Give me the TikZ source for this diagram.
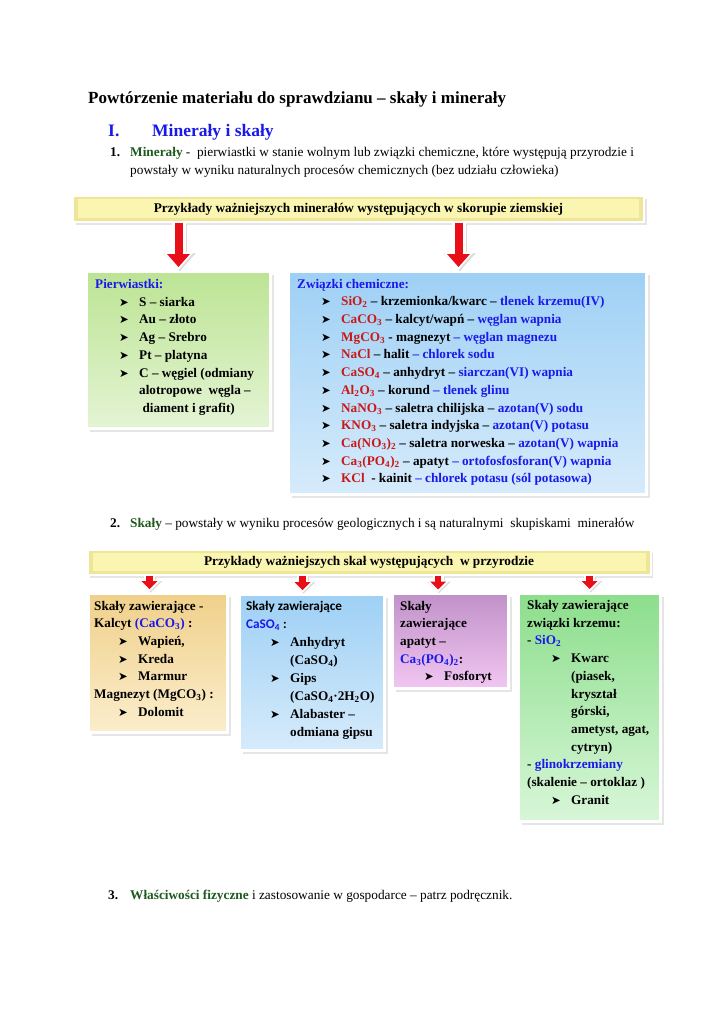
\documentclass[tikz,border=0pt]{standalone}
\usepackage{fontspec}
\setmainfont{Liberation Serif}
\newfontfamily\calibrifont{Carlito}
\newfontfamily\dejavu{DejaVu Sans}
\usetikzlibrary{arrows.meta,shadows}

\definecolor{darkgreen}{RGB}{30,90,30}
\definecolor{hblue}{RGB}{25,25,235}
\definecolor{fred}{RGB}{200,25,25}
\definecolor{arrred}{RGB}{232,15,25}
\definecolor{banlight}{RGB}{250,246,178}
\definecolor{bandark}{RGB}{238,229,150}
% kolory ramek
\definecolor{elemtop}{RGB}{188,228,148}
\definecolor{elembot}{RGB}{228,244,212}
\definecolor{bluetop}{RGB}{158,208,245}
\definecolor{bluebot}{RGB}{214,235,251}
\definecolor{tantop}{RGB}{240,208,138}
\definecolor{tanbot}{RGB}{251,237,204}
\definecolor{purtop}{RGB}{192,145,200}
\definecolor{purbot}{RGB}{242,198,242}
\definecolor{sgtop}{RGB}{140,222,140}
\definecolor{sgbot}{RGB}{216,246,216}

\newcommand{\low}[1]{\textsubscript{#1}}
\newcommand{\bitem}[1]{\hspace*{24pt}\makebox[20pt][l]{\dejavu\fontsize{11.5}{11.5}\selectfont ➤}#1}
\newcommand{\cont}[1]{\hspace*{44pt}#1}
\newcommand{\bl}[1]{\textcolor{hblue}{#1}}
\newcommand{\rd}[1]{\textcolor{fred}{#1}}

\tikzset{
  box/.style 2 args={draw=white, line width=3pt, inner sep=0pt, top color=#1, bottom color=#2,
    drop shadow={opacity=.2, shadow xshift=3.5pt, shadow yshift=-3.5pt}},
  banner/.style={draw=white, line width=2pt, inner sep=0pt, fill=bandark, font=\fontsize{13.3}{16}\selectfont\bfseries,
    drop shadow={opacity=.2, shadow xshift=2.5pt, shadow yshift=-3pt},
    path picture={\fill[banlight] ([shift={(5pt,-3.5pt)}]path picture bounding box.north west) rectangle ([shift={(-5pt,4pt)}]path picture bounding box.south east);}},
  boxtxt/.style={anchor=north west, inner sep=0pt, align=left, font=\fontsize{13.2}{17.7}\selectfont\bfseries},
  line/.style={anchor=base west, inner sep=0pt, font=\fontsize{13.3}{16}\selectfont},
  bigarrow/.style={arrred, line width=8pt, shorten >=3pt, -{Triangle[width=23pt,length=13pt,line width=0pt]},
    preaction={draw=black!14, line width=15pt, shorten >=0pt, transform canvas={xshift=1.2pt,yshift=-1.2pt},
      -{Triangle[width=32pt,length=18pt,line width=0pt]}},
    preaction={draw=white, line width=14pt, shorten >=0pt, -{Triangle[width=31pt,length=18pt,line width=0pt]}}},
  smallarrow/.style={arrred, line width=6.5pt, shorten >=2.5pt, -{Triangle[width=16pt,length=8pt,line width=0pt]},
    preaction={draw=black!14, line width=11.5pt, shorten >=0pt, transform canvas={xshift=1pt,yshift=-1pt},
      -{Triangle[width=24pt,length=11.5pt,line width=0pt]}},
    preaction={draw=white, line width=11pt, shorten >=0pt, -{Triangle[width=23pt,length=11.5pt,line width=0pt]}}},
}

\begin{document}
\begin{tikzpicture}[x=1pt, y=-1pt]
\useasboundingbox[fill=white] (0,0) rectangle (725,1024);

% naglowek
\node[line, font=\fontsize{17}{20}\selectfont\bfseries] (title) at (88,104) {Powtórzenie materiału do sprawdzianu – skały i minerały};
\node[line, font=\fontsize{17.5}{20}\selectfont\bfseries, text=hblue] (part1) at (108,137) {\makebox[44pt][l]{I.}Minerały i skały};
\node[line] (item1) at (110,156.5) {\makebox[20pt][l]{\bfseries 1.}{\bfseries\color{darkgreen}Minerały} -\ \ pierwiastki w stanie wolnym lub związki chemiczne, które występują przyrodzie i};
\node[line] (item1b) at (130,174.5) {powstały w wyniku naturalnych procesów chemicznych (bez udziału człowieka)};

% mineraly
\node[banner, minimum width=571pt, minimum height=26pt] (minban) at (358.5,209) {Przykłady ważniejszych minerałów występujących w skorupie ziemskiej};
\node[box={elemtop}{elembot}, minimum width=184pt, minimum height=157pt] (elembox) at (178.5,350) {};
\node[box={bluetop}{bluebot}, minimum width=358pt, minimum height=223pt] (compbox) at (467.5,383) {};
\draw[bigarrow] (minban.south -| elembox.north) -- (elembox.north);
\draw[bigarrow] ([xshift=-9pt]minban.south -| compbox.north) -- ([xshift=-9pt]compbox.north);

\node[boxtxt] (elemtxt) at (95,276) {\bl{Pierwiastki:}\strut\\
\bitem{S – siarka}\\
\bitem{Au – złoto}\\
\bitem{Ag – Srebro}\\
\bitem{Pt – platyna}\\
\bitem{C – węgiel (odmiany}\\
\cont{alotropowe\ \ węgla –}\\
\cont{\ diament i grafit)}};

\node[boxtxt] (comptxt) at (297,275.6) {\bl{Związki chemiczne:}\strut\\
\bitem{\rd{SiO\low{2}} – krzemionka/kwarc – \bl{tlenek krzemu(IV)}}\\
\bitem{\rd{CaCO\low{3}} – kalcyt/wapń – \bl{węglan wapnia}}\\
\bitem{\rd{MgCO\low{3}} - magnezyt \bl{– węglan magnezu}}\\
\bitem{\rd{NaCl} – halit \bl{– chlorek sodu}}\\
\bitem{\rd{CaSO\low{4}} – anhydryt – \bl{siarczan(VI) wapnia}}\\
\bitem{\rd{Al\low{2}O\low{3}} – korund \bl{– tlenek glinu}}\\
\bitem{\rd{NaNO\low{3}} – saletra chilijska – \bl{azotan(V) sodu}}\\
\bitem{\rd{KNO\low{3}} – saletra indyjska – \bl{azotan(V) potasu}}\\
\bitem{\rd{Ca(NO\low{3})\low{2}} – saletra norweska – \bl{azotan(V) wapnia}}\\
\bitem{\rd{Ca\low{3}(PO\low{4})\low{2}} – apatyt \bl{– ortofosfosforan(V) wapnia}}\\
\bitem{\rd{KCl}\ \ - kainit \bl{– chlorek potasu (sól potasowa)}}};

% skaly
\node[line] (item2) at (110,527.5) {\makebox[20pt][l]{\bfseries 2.}{\bfseries\color{darkgreen}Skały} – powstały w wyniku procesów geologicznych i są naturalnymi\ \ skupiskami\ \ minerałów};

\node[banner, minimum width=563pt, minimum height=25pt] (rockban) at (369,562) {Przykłady ważniejszych skał występujących\ \ w przyrodzie};
\node[box={tantop}{tanbot}, minimum width=139pt, minimum height=139pt] (calcbox) at (157.5,662.5) {};
\node[box={bluetop}{bluebot}, minimum width=145pt, minimum height=156pt] (gypbox) at (311.5,672) {};
\node[box={purtop}{purbot}, minimum width=116pt, minimum height=95pt] (apabox) at (450,641) {};
\node[box={sgtop}{sgbot}, minimum width=142pt, minimum height=228pt] (silbox) at (589.5,707) {};
\draw[smallarrow] ([xshift=-8pt]rockban.south -| calcbox.north) -- ([xshift=-8pt]calcbox.north);
\draw[smallarrow] ([xshift=-9pt]rockban.south -| gypbox.north) -- ([xshift=-9pt]gypbox.north);
\draw[smallarrow] ([xshift=-12pt]rockban.south -| apabox.north) -- ([xshift=-12pt]apabox.north);
\draw[smallarrow] (rockban.south -| silbox.north) -- (silbox.north);

\node[boxtxt] (calctxt) at (94,597.6) {Skały zawierające -\strut\\
Kalcyt \bl{(CaCO\low{3})} :\\
\bitem{Wapień,}\\
\bitem{Kreda}\\
\bitem{Marmur}\\
Magnezyt (MgCO\low{3}) :\\
\bitem{Dolomit}};

\node[boxtxt, font=\fontsize{13.2}{18}\selectfont\bfseries] (gyptxt) at (246,598) {{\calibrifont Skały zawierające}\strut\\
{\calibrifont\bl{CaSO\low{4}} :}\\
\bitem{Anhydryt}\\
\cont{(CaSO\low{4})}\\
\bitem{Gips}\\
\cont{(CaSO\low{4}·2H\low{2}O)}\\
\bitem{Alabaster –}\\
\cont{odmiana gipsu}};

\node[boxtxt] (apatxt) at (400,597.6) {Skały\strut\\
zawierające\\
apatyt –\\
\bl{Ca\low{3}(PO\low{4})\low{2}}:\\
\bitem{Fosforyt}};

\node[boxtxt] (siltxt) at (527,597) {Skały zawierające\strut\\
związki krzemu:\\
- \bl{SiO\low{2}}\\
\bitem{Kwarc}\\
\cont{(piasek,}\\
\cont{kryształ}\\
\cont{górski,}\\
\cont{ametyst, agat,}\\
\cont{cytryn)}\\
- \bl{glinokrzemiany}\\
(skalenie – ortoklaz )\\
\bitem{Granit}};

\node[line] (item3) at (108,899) {\makebox[22pt][l]{\bfseries 3.}{\bfseries\color{darkgreen}Właściwości fizyczne} i zastosowanie w gospodarce – patrz podręcznik.};
\end{tikzpicture}
\end{document}
